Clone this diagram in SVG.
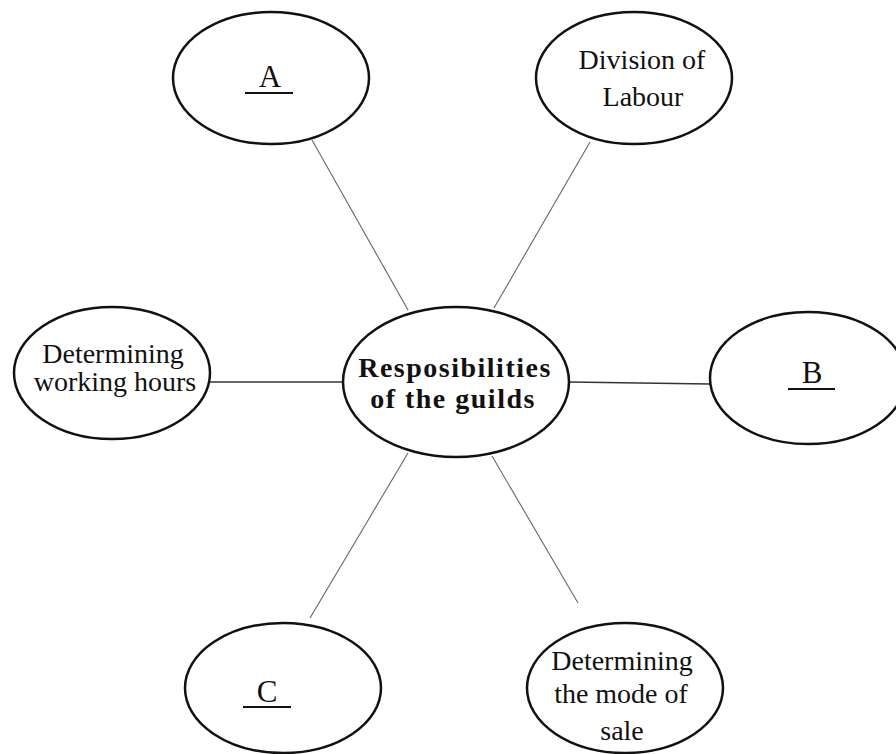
<svg xmlns="http://www.w3.org/2000/svg" width="896" height="754" viewBox="0 0 896 754">
<style>
.node{fill:#fff;stroke:#111;stroke-width:2.5}
.lbl{font-family:"Liberation Serif","Times New Roman",serif;font-size:28px;fill:#111;text-anchor:middle}
.big{font-size:31px}
.bold{font-weight:bold;letter-spacing:1.5px}
.ul{stroke:#111;stroke-width:2.2}
.diag{stroke:#666;stroke-width:1.1;fill:none}
.horiz{stroke:#333;stroke-width:1.5;fill:none}
</style>
<rect width="896" height="754" fill="#fff"/>
<g id="connectors">
<line class="diag" x1="312" y1="140" x2="408" y2="310"/>
<line class="diag" x1="590" y1="142" x2="494" y2="308"/>
<line class="horiz" x1="210" y1="382" x2="343" y2="382"/>
<line class="horiz" x1="569" y1="382" x2="710" y2="384"/>
<line class="diag" x1="408" y1="453" x2="310" y2="618"/>
<line class="diag" x1="492" y1="456" x2="578" y2="603"/>
</g>
<g id="node-A">
<ellipse class="node" cx="271" cy="78" rx="98" ry="66"/>
<text class="lbl big" x="270" y="87">A</text>
<line class="ul" x1="245" y1="93" x2="293" y2="93"/>
</g>
<g id="node-division">
<ellipse class="node" cx="634" cy="78" rx="98" ry="66"/>
<text class="lbl" x="642" y="69">Division of</text>
<text class="lbl" x="643" y="106">Labour</text>
</g>
<g id="node-working-hours">
<ellipse class="node" cx="112" cy="373" rx="98" ry="66"/>
<text class="lbl" x="113" y="363">Determining</text>
<text class="lbl" x="115" y="391">working hours</text>
</g>
<g id="node-center">
<ellipse class="node" cx="456" cy="382" rx="113" ry="75"/>
<text class="lbl bold" x="455" y="377">Resposibilities</text>
<text class="lbl bold" x="453" y="408">of the guilds</text>
</g>
<g id="node-B">
<ellipse class="node" cx="808" cy="378" rx="98" ry="66"/>
<text class="lbl big" x="812" y="383">B</text>
<line class="ul" x1="788" y1="389" x2="835" y2="389"/>
</g>
<g id="node-C">
<ellipse class="node" cx="283" cy="688" rx="98" ry="65"/>
<text class="lbl big" x="267" y="702">C</text>
<line class="ul" x1="243" y1="707" x2="291" y2="707"/>
</g>
<g id="node-mode-of-sale">
<ellipse class="node" cx="625" cy="688" rx="98" ry="65"/>
<text class="lbl" x="622" y="670">Determining</text>
<text class="lbl" x="621" y="703">the mode of</text>
<text class="lbl" x="622" y="740">sale</text>
</g>
</svg>
